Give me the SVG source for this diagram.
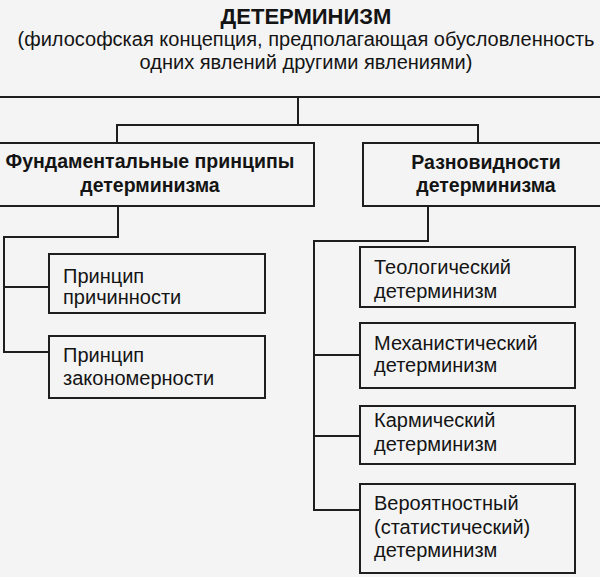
<svg xmlns="http://www.w3.org/2000/svg" width="600" height="577" viewBox="0 0 600 577">
<style>
.bg{fill:#f4f4f5}
.box{fill:#f4f4f5;stroke:#1e1e1e;stroke-width:2}
.ln{fill:none;stroke:#1e1e1e;stroke-width:2}
text{font-family:"Liberation Sans",Arial,sans-serif;fill:#141414}
.t{font-size:22px;font-weight:bold}
.s{font-size:20px}
.h{font-size:19.5px;font-weight:bold}
.n{font-size:20px}
</style>
<rect class="bg" x="0" y="0" width="600" height="577"/>
<g id="title">
<text class="t" x="306" y="24" text-anchor="middle">ДЕТЕРМИНИЗМ</text>
<text class="s" x="306" y="46" text-anchor="middle">(философская концепция, предполагающая обусловленность</text>
<text class="s" x="306" y="69" text-anchor="middle">одних явлений другими явлениями)</text>
</g>
<g id="connectors">
<path class="ln" d="M0 97H600M298 97V125M117 143V125H478V143"/>
<path class="ln" d="M118 206V237H4V352H49M4 287H49"/>
<path class="ln" d="M428 206V241H314V510H360M314 355H360M314 436H360"/>
</g>
<g id="fund">
<rect class="box" x="-5" y="143" width="319" height="63"/>
<text class="h" x="150" y="168" text-anchor="middle">Фундаментальные принципы</text>
<text class="h" x="150" y="192" text-anchor="middle">детерминизма</text>
</g>
<g id="vari">
<rect class="box" x="363" y="143" width="245" height="63"/>
<text class="h" x="486" y="169" text-anchor="middle">Разновидности</text>
<text class="h" x="486" y="192" text-anchor="middle">детерминизма</text>
</g>
<g id="p1">
<rect class="box" x="49" y="254" width="216" height="59"/>
<text class="n" x="63" y="283">Принцип</text>
<text class="n" x="63" y="304">причинности</text>
</g>
<g id="p2">
<rect class="box" x="49" y="336" width="216" height="62"/>
<text class="n" x="63" y="362">Принцип</text>
<text class="n" x="63" y="385">закономерности</text>
</g>
<g id="r1">
<rect class="box" x="360" y="247" width="215" height="60"/>
<text class="n" x="374" y="274">Теологический</text>
<text class="n" x="374" y="298">детерминизм</text>
</g>
<g id="r2">
<rect class="box" x="360" y="323" width="215" height="65"/>
<text class="n" x="374" y="350">Механистический</text>
<text class="n" x="374" y="372">детерминизм</text>
</g>
<g id="r3">
<rect class="box" x="360" y="406" width="215" height="58"/>
<text class="n" x="374" y="427">Кармический</text>
<text class="n" x="374" y="451">детерминизм</text>
</g>
<g id="r4">
<rect class="box" x="360" y="484" width="215" height="89"/>
<text class="n" x="374" y="510">Вероятностный</text>
<text class="n" x="374" y="534">(статистический)</text>
<text class="n" x="374" y="557">детерминизм</text>
</g>
</svg>
